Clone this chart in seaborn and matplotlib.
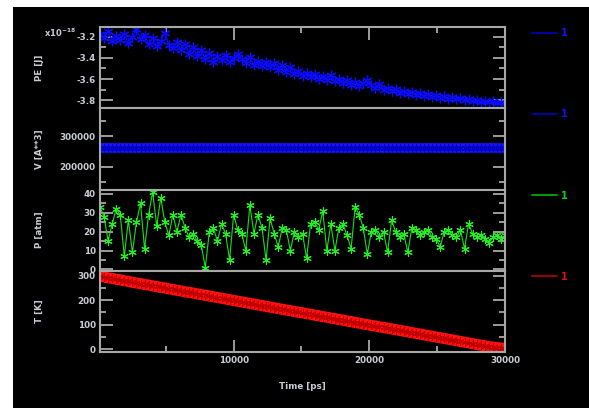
import numpy as np
import pandas as pd
import matplotlib
matplotlib.use("Agg")
import matplotlib.pyplot as plt
from matplotlib.lines import Line2D
from matplotlib.patches import Rectangle
from matplotlib.ticker import MultipleLocator, FuncFormatter
import seaborn as sns

# ---- data -------------------------------------------------------------
time_ps = np.linspace(150, 30000, 101)

# potential energy, in units of 1e-18 J
pe = [-3.17, -3.21, -3.15, -3.24, -3.19, -3.23, -3.17, -3.26, -3.20, -3.13,
      -3.22, -3.18, -3.27, -3.21, -3.29, -3.24, -3.16, -3.28, -3.31, -3.25,
      -3.33, -3.27, -3.36, -3.30, -3.38, -3.33, -3.41, -3.35, -3.44, -3.38,
      -3.42, -3.37, -3.44, -3.40, -3.36, -3.41, -3.45, -3.39, -3.47, -3.43,
      -3.48, -3.44, -3.49, -3.45, -3.51, -3.47, -3.53, -3.49, -3.55, -3.52,
      -3.57, -3.54, -3.58, -3.55, -3.60, -3.57, -3.61, -3.56, -3.62, -3.60,
      -3.64, -3.61, -3.66, -3.63, -3.67, -3.64, -3.61, -3.66, -3.68, -3.65,
      -3.70, -3.68, -3.71, -3.69, -3.73, -3.71, -3.74, -3.72, -3.75, -3.73,
      -3.76, -3.74, -3.77, -3.75, -3.78, -3.76, -3.79, -3.77, -3.79, -3.78,
      -3.80, -3.79, -3.81, -3.80, -3.82, -3.81, -3.82, -3.81, -3.83, -3.82,
      -3.83]

# cell volume, A**3
volume = [261200, 260900, 261400, 261000, 260800, 261300, 261100, 260900, 261200, 261000,
          260700, 261100, 261300, 260900, 261000, 261200, 260800, 261100, 261000, 261300,
          260900, 261200, 261000, 260800, 261100, 261300, 260900, 261000, 261200, 260900,
          261100, 261000, 260800, 261200, 261100, 260900, 261300, 261000, 260900, 261100,
          261200, 260800, 261000, 261100, 261300, 260900, 261000, 261200, 260900, 261100,
          261000, 260800, 261200, 261100, 260900, 261300, 261000, 260900, 261100, 261200,
          260800, 261000, 261100, 261300, 260900, 261000, 261200, 260900, 261100, 261000,
          260800, 261200, 261100, 260900, 261300, 261000, 260900, 261100, 261200, 260800,
          261000, 261100, 261300, 260900, 261000, 261200, 260900, 261100, 261000, 260800,
          261200, 261100, 260900, 261300, 261000, 260900, 261100, 261200, 260800, 261000,
          261100]

# pressure, atm
pressure = [33, 28, 15, 24, 32, 29, 7, 26, 9, 25,
            35, 11, 29, 41, 23, 38, 25, 18, 29, 20,
            29, 22, 17, 19, 15, 13, 1, 20, 22, 15,
            24, 19, 5, 29, 21, 19, 10, 34, 19, 29,
            22, 5, 27, 19, 12, 22, 21, 10, 20, 17,
            19, 6, 24, 25, 21, 31, 10, 24, 10, 22,
            24, 18, 11, 33, 29, 22, 8, 20, 21, 17,
            20, 9, 26, 20, 17, 19, 9, 22, 21, 18,
            20, 21, 17, 16, 12, 20, 21, 18, 17, 21,
            11, 24, 19, 17, 18, 16, 14, 17, 18, 16,
            18]

# temperature, K
temperature = [297, 295, 291, 289, 285, 283, 279, 277, 273, 270,
               268, 264, 262, 258, 256, 252, 250, 246, 244, 240,
               238, 234, 232, 229, 226, 223, 220, 217, 214, 211,
               208, 205, 202, 199, 196, 193, 190, 187, 184, 181,
               178, 175, 172, 169, 166, 163, 160, 157, 154, 151,
               149, 145, 143, 139, 137, 133, 131, 127, 125, 121,
               119, 115, 113, 109, 107, 103, 101, 97, 95, 91,
               89, 86, 83, 80, 77, 74, 71, 68, 65, 62,
               59, 56, 53, 50, 47, 44, 41, 38, 35, 32,
               29, 26, 23, 20, 17, 14, 11, 9, 7, 5,
               3]

ylabels = ["PE [J]", "V [A**3]", "P [atm]", "T [K]"]
legend_labels = ["1", "1", "1", "1"]
x_label = "Time [ps]"

df = pd.DataFrame({"time": time_ps, "pe": pe, "volume": volume,
                   "pressure": pressure, "temperature": temperature})

# ---- styling ----------------------------------------------------------
sns.set_style("dark")
plt.rcParams["font.family"] = ["DejaVu Sans"]
plt.rcParams["font.weight"] = "bold"
plt.rcParams["mathtext.default"] = "bf"

FG = "#c8ccd2"
SPINE = "#a8a8a8"

fig = plt.figure(figsize=(5.89, 4.08), dpi=100, facecolor="white")
fig.patches.append(Rectangle((13 / 589, 0), 1 - 13 / 589, 1 - 7 / 408,
                             transform=fig.transFigure, facecolor="black",
                             edgecolor="none", zorder=-10))
axes = fig.subplots(4, 1, sharex=True, gridspec_kw=dict(hspace=0))
fig.subplots_adjust(left=100 / 589, right=505 / 589,
                    top=1 - 27 / 408, bottom=1 - 352 / 408)

asterisk = (6, 2, 0)

# PE
sns.lineplot(data=df, x="time", y="pe", ax=axes[0], estimator=None,
             color="#0a0aff", linewidth=1.0, marker=asterisk, markersize=7,
             markeredgewidth=0.9, markeredgecolor="#0a0aff")
# V
sns.lineplot(data=df, x="time", y="volume", ax=axes[1], estimator=None,
             color="#1414ff", linewidth=7, marker=asterisk, markersize=6,
             markeredgewidth=0.6, markeredgecolor="#0000c0")
# P
sns.lineplot(data=df, x="time", y="pressure", ax=axes[2], estimator=None,
             color="#18e018", linewidth=0.8, marker=asterisk, markersize=6,
             markeredgewidth=0.8, markeredgecolor="#22f022")
# T
sns.lineplot(data=df, x="time", y="temperature", ax=axes[3], estimator=None,
             color="#ff1010", linewidth=8, marker=asterisk, markersize=6,
             markeredgewidth=0.6, markeredgecolor="#c00000")

ylims = [(-3.876, -3.108), (126000, 390300), (-0.7, 42.3), (-11, 320)]
majors = [0.2, 100000, 10, 100]
minors = [0.1, 50000, 5, 50]
fmts = [lambda v, p: f"{v:.1f}", lambda v, p: f"{v:.0f}",
        lambda v, p: f"{v:.0f}", lambda v, p: f"{v:.0f}"]
legend_line = ["#0000a8", "#0000a8", "#00a000", "#a00000"]
legend_text = ["#1010ff", "#1010ff", "#10d010", "#e01010"]

for i, ax in enumerate(axes):
    ax.set_facecolor("black")
    ax.set_xlim(150, 30000)
    ax.set_ylim(*ylims[i])
    ax.yaxis.set_major_locator(MultipleLocator(majors[i]))
    ax.yaxis.set_minor_locator(MultipleLocator(minors[i]))
    ax.yaxis.set_major_formatter(FuncFormatter(fmts[i]))
    ax.xaxis.set_major_locator(MultipleLocator(10000))
    ax.xaxis.set_minor_locator(MultipleLocator(5000))
    ax.xaxis.set_major_formatter(FuncFormatter(lambda v, p: f"{v:.0f}"))
    ax.grid(False)
    for s in ax.spines.values():
        s.set_visible(True)
        s.set_color(SPINE)
        s.set_linewidth(1.5)
    ax.tick_params(which="both", direction="in", left=True, right=True,
                   top=(i == 0), bottom=(i == 3), labelbottom=(i == 3),
                   color=SPINE, width=1.3, labelcolor=FG, labelsize=6.3,
                   pad=3)
    ax.tick_params(which="major", length=9)
    ax.tick_params(which="minor", length=4.5)
    ax.set_ylabel(ylabels[i], color=FG, fontsize=6.3, fontweight="bold")
    ax.yaxis.set_label_coords(-0.1395, 0.5)
    ax.set_xlabel("")
    ax.legend(handles=[Line2D([], [], color=legend_line[i], lw=1.4)],
              labels=[legend_labels[i]], loc="center left",
              bbox_to_anchor=(1.067, 1 - 6 / 81), frameon=False,
              borderpad=0, borderaxespad=0, handlelength=2.6,
              handletextpad=0.35, labelcolor=legend_text[i],
              prop=dict(weight="bold", size=7))

axes[3].set_xlabel(x_label, color=FG, fontsize=6.3, fontweight="bold",
                   labelpad=12)

# exponent of the PE axis
fig.text(44 / 589, 1 - 37 / 408, r"x10$^{-18}$", color=FG, fontsize=6,
         fontweight="bold", ha="left", va="baseline")

fig.savefig("out.png", dpi=100, facecolor=fig.get_facecolor())
